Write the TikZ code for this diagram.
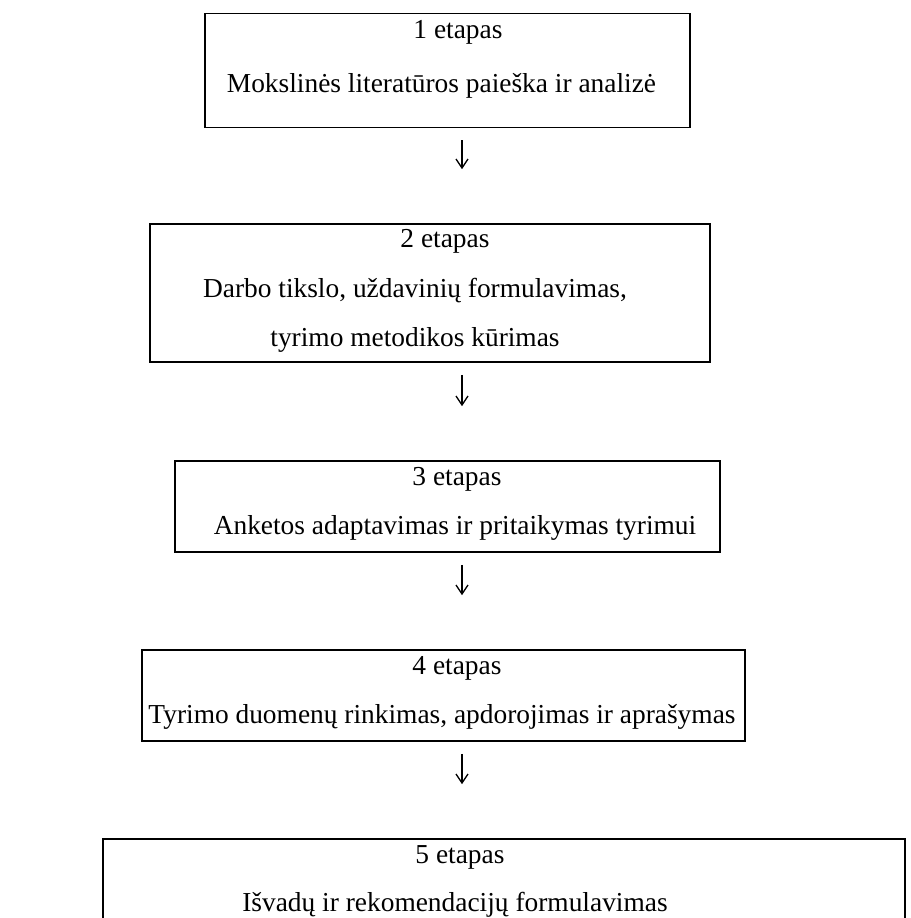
\documentclass[tikz,border=0pt]{standalone}
\usepackage{fontspec}
\setmainfont{Liberation Serif}
\usetikzlibrary{arrows.meta,positioning}
\tikzset{
  stagebox/.style  = {draw, line width=0.8pt, rectangle, inner sep=0pt},
  stagehead/.style = {anchor=base, inner sep=0pt},
  stagetext/.style = {anchor=base, inner sep=0pt, align=center},
  flow/.style      = {-{Straight Barb[length=4.5pt,width=6pt]}, line width=0.65pt,
                      shorten <=6pt, shorten >=27pt},
}

\begin{document}
\begin{tikzpicture}[x=0.5pt, y=-0.5pt, font=\fontsize{13.7}{24.5}\selectfont]
\useasboundingbox (0,0) rectangle (911,918);
\clip (0,0) rectangle (911,918);
% ---- stage boxes ----
\node[stagebox, minimum width=242.5pt, minimum height=57pt]   (b1) at (447.5,70.5) {};
\node[stagebox, minimum width=280pt,   minimum height=69pt]   (b2) at (430,293) {};
\node[stagebox, minimum width=272.5pt, minimum height=45.5pt] (b3) at (447.5,506.5) {};
\node[stagebox, minimum width=301.5pt, minimum height=45.5pt] (b4) at (443.5,695.5) {};
\node[stagebox, minimum width=401pt,   minimum height=70.5pt] (b5) at (504,909.5) {};
% ---- texts ----
\node[stagehead] (h1) at (458,38)  {1 etapas};
\node[stagetext] (d1) at (441.5,92) {Mokslinės literatūros paieška ir analizė};
\node[stagehead] (h2) at (445,247) {2 etapas};
\node[stagetext] (d2) at (415,346) {Darbo tikslo, uždavinių formulavimas,\\ tyrimo metodikos kūrimas};
\node[stagehead] (h3) at (457,485) {3 etapas};
\node[stagetext] (d3) at (455,534) {Anketos adaptavimas ir pritaikymas tyrimui};
\node[stagehead] (h4) at (457,674) {4 etapas};
\node[stagetext] (d4) at (442,723) {Tyrimo duomenų rinkimas, apdorojimas ir aprašymas};
\node[stagehead] (h5) at (460,863) {5 etapas};
\node[stagetext] (d5) at (455,911) {Išvadų ir rekomendacijų formulavimas};
% ---- arrows between stages ----
\coordinate (ax) at (462,0);
\draw[flow] (b1.south -| ax) -- (b2.north -| ax);
\draw[flow] (b2.south -| ax) -- (b3.north -| ax);
\draw[flow] (b3.south -| ax) -- (b4.north -| ax);
\draw[flow] (b4.south -| ax) -- (b5.north -| ax);
\end{tikzpicture}
\end{document}
